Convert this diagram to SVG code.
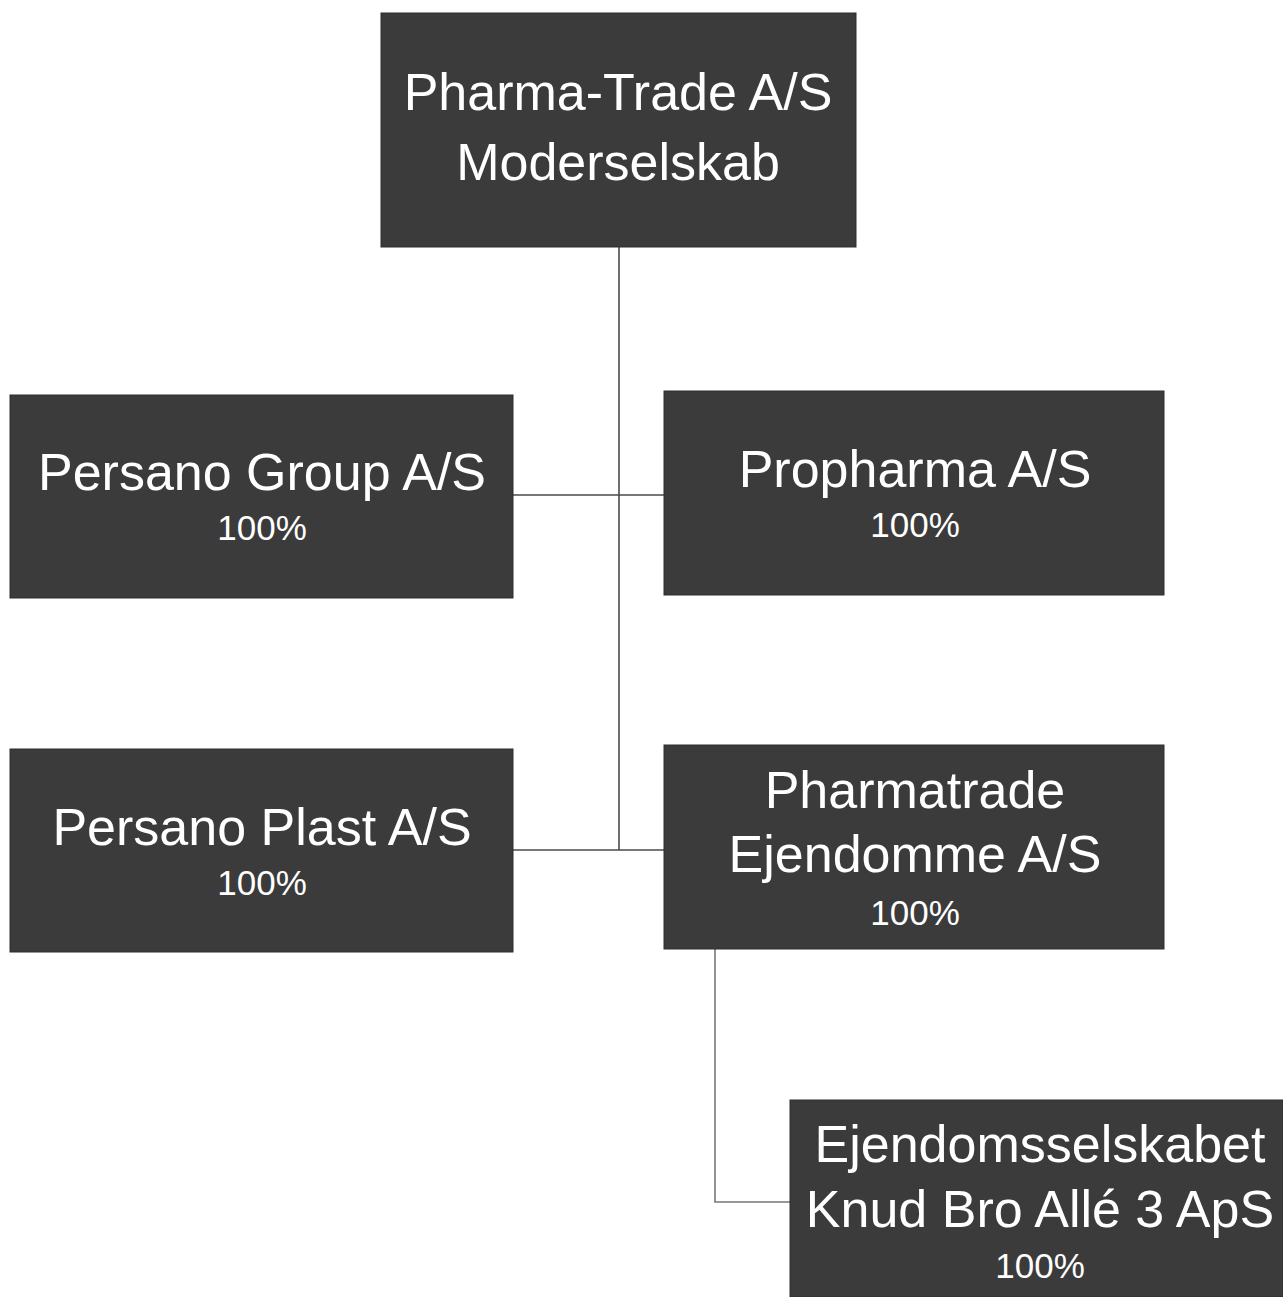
<svg xmlns="http://www.w3.org/2000/svg" width="1283" height="1297" viewBox="0 0 1283 1297">
<style>
.box{fill:#3b3b3b;stroke:#2e2e2e;stroke-width:1}
.t{font-family:"Liberation Sans",Arial,sans-serif;fill:#ffffff;text-anchor:middle}
.big{font-size:52px}
.pct{font-size:35px}
.ln{fill:none;stroke:#4a4a4a;stroke-width:1.6}
.ln2{fill:none;stroke:#777;stroke-width:1.6}
</style>
<rect width="1283" height="1297" fill="#ffffff"/>
<g id="connectors">
<path class="ln" d="M619 247 V850"/>
<path class="ln" d="M513 495 H664"/>
<path class="ln" d="M513 850 H664"/>
<path class="ln2" d="M715 949 V1202 H790"/>
</g>
<g id="node-pharma-trade">
<rect class="box" x="381" y="13" width="475" height="234"/>
<text class="t big" x="618" y="110">Pharma-Trade A/S</text>
<text class="t big" x="618" y="180">Moderselskab</text>
</g>
<g id="node-persano-group">
<rect class="box" x="10" y="395" width="503" height="203"/>
<text class="t big" x="262" y="490">Persano Group A/S</text>
<text class="t pct" x="262" y="540">100%</text>
</g>
<g id="node-propharma">
<rect class="box" x="664" y="391" width="500" height="204"/>
<text class="t big" x="915" y="487">Propharma A/S</text>
<text class="t pct" x="915" y="537">100%</text>
</g>
<g id="node-persano-plast">
<rect class="box" x="10" y="749" width="503" height="203"/>
<text class="t big" x="262" y="845">Persano Plast A/S</text>
<text class="t pct" x="262" y="895">100%</text>
</g>
<g id="node-pharmatrade-ejendomme">
<rect class="box" x="664" y="745" width="500" height="204"/>
<text class="t big" x="915" y="808">Pharmatrade</text>
<text class="t big" x="915" y="872">Ejendomme A/S</text>
<text class="t pct" x="915" y="925">100%</text>
</g>
<g id="node-ejendomsselskabet">
<rect class="box" x="790" y="1100" width="493" height="197"/>
<text class="t big" x="1040" y="1162">Ejendomsselskabet</text>
<text class="t big" x="1040" y="1227">Knud Bro Allé 3 ApS</text>
<text class="t pct" x="1040" y="1278">100%</text>
</g>
</svg>
